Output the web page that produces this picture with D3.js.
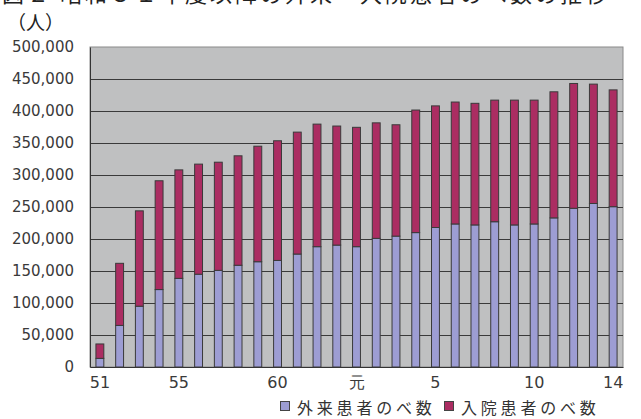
<!DOCTYPE html>
<html>
<head>
<meta charset="utf-8">
<script src="https://cdn.jsdelivr.net/npm/d3@7"></script>
<style>
  html, body { margin: 0; padding: 0; background: #fff; }
  svg { display: block; }
</style>
</head>
<body>
<svg id="chart" width="641" height="419"></svg>
<script>
// Fiscal years: Showa 51–63, then Heisei 元 (1) – 14
const years = ["51","52","53","54","55","56","57","58","59","60","61","62","63",
               "元","2","3","4","5","6","7","8","9","10","11","12","13","14"];
// Outpatient-days (外来患者のべ数)
const outpatient = [13500, 65000, 95000, 121000, 138500, 145000, 151000, 159000, 164500,
                    166500, 176500, 188000, 190500, 188000, 201000, 204500, 210000, 218000,
                    223500, 222000, 227000, 222000, 223500, 233000, 248000, 255500, 250500];
// Inpatient-days (入院患者のべ数)
const inpatient = [22500, 97000, 149000, 170000, 169500, 172000, 169000, 171000, 180500,
                   187000, 190500, 191500, 186000, 186500, 180500, 174000, 191500, 190000,
                   190500, 190000, 190000, 195000, 193500, 197000, 195000, 186500, 182500];
// Years that carry an axis label
const tickYears = ["51","55","60","元","5","10","14"];
const yTicks = [0, 50000, 100000, 150000, 200000, 250000, 300000, 350000, 400000, 450000, 500000];
const seriesNames = ["外来患者のべ数", "入院患者のべ数"];
const seriesColors = ["#9d9dd3", "#ab2d62"];

const svg = d3.select("#chart");
const plotL = 90, plotR = 623, plotT = 47, plotB = 367;

const x = d3.scaleBand().domain(years).range([plotL, plotR]).paddingInner(0.6).paddingOuter(0.3);
const y = d3.scaleLinear().domain([0, 500000]).range([plotB, plotT]);

// Heading line running off the top edge
svg.append("text")
  .attr("x", 2).attr("y", 2)
  .attr("font-family", "'Noto Sans CJK JP', sans-serif")
  .attr("font-size", 22).attr("fill", "#222")
  .attr("letter-spacing", 3)
  .text("図２ 昭和５１年度以降の外来・入院患者のべ数の推移");

// Unit label
svg.append("text")
  .attr("x", 7).attr("y", 30)
  .attr("font-family", "'Noto Sans CJK JP', sans-serif")
  .attr("font-size", 19).attr("fill", "#222")
  .text("（人）");

// Plot area background
svg.append("rect")
  .attr("x", plotL).attr("y", plotT)
  .attr("width", plotR - plotL).attr("height", plotB - plotT)
  .attr("fill", "#bfc0c1")
  .attr("stroke", "#8a8a8a").attr("stroke-width", 1);

// Horizontal gridlines
svg.append("g")
  .selectAll("line")
  .data(yTicks.filter(d => d > 0 && d < 500000))
  .join("line")
  .attr("x1", plotL).attr("x2", plotR)
  .attr("y1", d => Math.round(y(d)) + 0.5).attr("y2", d => Math.round(y(d)) + 0.5)
  .attr("stroke", "#3a3a3a").attr("stroke-width", 1);

// Y axis
const yAxis = svg.append("g")
  .attr("transform", `translate(${plotL},0)`)
  .call(d3.axisLeft(y).tickValues(yTicks).tickSize(0).tickPadding(16)
        .tickFormat(d3.format(",")));
yAxis.select(".domain").attr("stroke", "#333");
yAxis.selectAll("text")
  .attr("font-family", "'DejaVu Sans', sans-serif")
  .attr("font-size", 15).attr("fill", "#3a3a3a");

// X axis
const xAxis = svg.append("g")
  .attr("transform", `translate(0,${plotB})`)
  .call(d3.axisBottom(x).tickValues(tickYears).tickSize(0).tickPadding(10));
xAxis.select(".domain").attr("stroke", "#333");
xAxis.selectAll("text")
  .attr("font-family", "'DejaVu Sans', sans-serif")
  .attr("font-size", 16).attr("fill", "#3a3a3a");

// Stacked bars
const rows = years.map((yr, i) => ({ year: yr, out: outpatient[i], inp: inpatient[i] }));
const stack = d3.stack().keys(["out", "inp"])(rows);

svg.append("g")
  .selectAll("g")
  .data(stack)
  .join("g")
  .attr("fill", (d, i) => seriesColors[i])
  .selectAll("rect")
  .data(d => d)
  .join("rect")
  .attr("x", d => x(d.data.year))
  .attr("width", x.bandwidth())
  .attr("y", d => y(d[1]))
  .attr("height", d => y(d[0]) - y(d[1]))
  .attr("stroke", "#3a3a3a").attr("stroke-width", 1);

// Legend
const legend = svg.append("g").attr("transform", "translate(280,414)");
const legendX = [0, 164];
seriesNames.forEach((name, i) => {
  const g = legend.append("g").attr("transform", `translate(${legendX[i]},0)`);
  g.append("rect")
    .attr("x", 0.5).attr("y", -12.5).attr("width", 9).attr("height", 9)
    .attr("fill", seriesColors[i]).attr("stroke", "#444").attr("stroke-width", 1);
  g.append("text")
    .attr("x", 17).attr("y", 0)
    .attr("font-family", "'Noto Sans CJK JP', sans-serif")
    .attr("font-size", 16).attr("fill", "#333")
    .attr("letter-spacing", 3.8)
    .text(name);
});
</script>
</body>
</html>
